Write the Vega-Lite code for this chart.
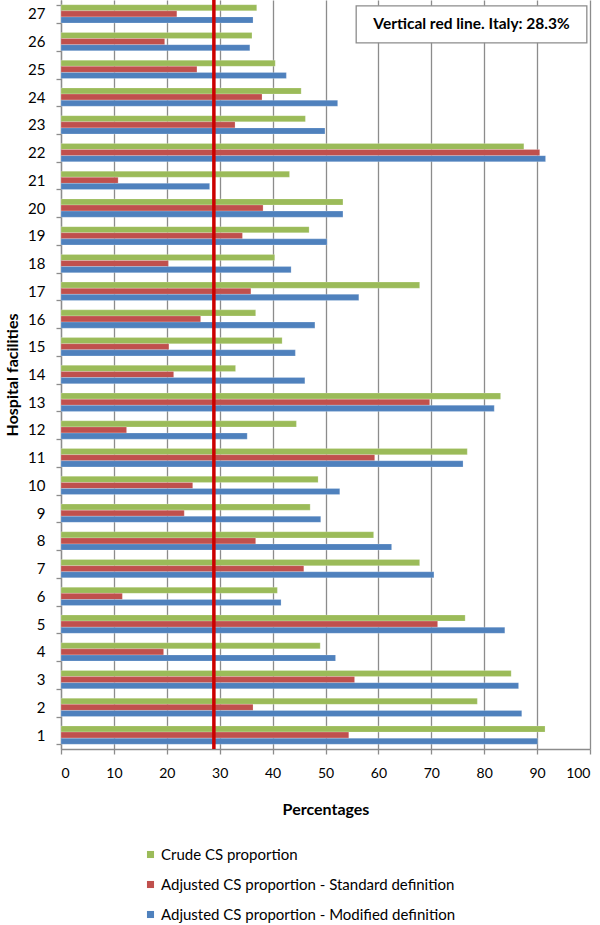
{
  "$schema": "https://vega.github.io/schema/vega-lite/v6.json",
  "width": 529,
  "height": 749,
  "autosize": "none",
  "padding": {"left": 61, "top": 0, "right": 10, "bottom": 176},
  "background": "white",
  "config": {
    "font": "Lato",
    "view": {"stroke": null},
    "axis": {"labelColor": "black", "titleColor": "black", "domainColor": "#8c8c8c", "tickColor": "#8c8c8c", "domainWidth": 1.3, "tickWidth": 1.3}
  },
  "datasets": {
    "bars": [
      {"facility": 1, "series": "Crude CS proportion", "value": 91.5},
      {"facility": 1, "series": "Adjusted CS proportion - Standard definition", "value": 54.4},
      {"facility": 1, "series": "Adjusted CS proportion - Modified definition", "value": 90.1},
      {"facility": 2, "series": "Crude CS proportion", "value": 78.7},
      {"facility": 2, "series": "Adjusted CS proportion - Standard definition", "value": 36.3},
      {"facility": 2, "series": "Adjusted CS proportion - Modified definition", "value": 87.1},
      {"facility": 3, "series": "Crude CS proportion", "value": 85.1},
      {"facility": 3, "series": "Adjusted CS proportion - Standard definition", "value": 55.5},
      {"facility": 3, "series": "Adjusted CS proportion - Modified definition", "value": 86.5},
      {"facility": 4, "series": "Crude CS proportion", "value": 49.0},
      {"facility": 4, "series": "Adjusted CS proportion - Standard definition", "value": 19.4},
      {"facility": 4, "series": "Adjusted CS proportion - Modified definition", "value": 51.9},
      {"facility": 5, "series": "Crude CS proportion", "value": 76.4},
      {"facility": 5, "series": "Adjusted CS proportion - Standard definition", "value": 71.2},
      {"facility": 5, "series": "Adjusted CS proportion - Modified definition", "value": 83.9},
      {"facility": 6, "series": "Crude CS proportion", "value": 40.9},
      {"facility": 6, "series": "Adjusted CS proportion - Standard definition", "value": 11.6},
      {"facility": 6, "series": "Adjusted CS proportion - Modified definition", "value": 41.6},
      {"facility": 7, "series": "Crude CS proportion", "value": 67.8},
      {"facility": 7, "series": "Adjusted CS proportion - Standard definition", "value": 45.9},
      {"facility": 7, "series": "Adjusted CS proportion - Modified definition", "value": 70.5},
      {"facility": 8, "series": "Crude CS proportion", "value": 59.1},
      {"facility": 8, "series": "Adjusted CS proportion - Standard definition", "value": 36.8},
      {"facility": 8, "series": "Adjusted CS proportion - Modified definition", "value": 62.5},
      {"facility": 9, "series": "Crude CS proportion", "value": 47.1},
      {"facility": 9, "series": "Adjusted CS proportion - Standard definition", "value": 23.3},
      {"facility": 9, "series": "Adjusted CS proportion - Modified definition", "value": 49.1},
      {"facility": 10, "series": "Crude CS proportion", "value": 48.6},
      {"facility": 10, "series": "Adjusted CS proportion - Standard definition", "value": 24.9},
      {"facility": 10, "series": "Adjusted CS proportion - Modified definition", "value": 52.7},
      {"facility": 11, "series": "Crude CS proportion", "value": 76.8},
      {"facility": 11, "series": "Adjusted CS proportion - Standard definition", "value": 59.3},
      {"facility": 11, "series": "Adjusted CS proportion - Modified definition", "value": 76.0},
      {"facility": 12, "series": "Crude CS proportion", "value": 44.5},
      {"facility": 12, "series": "Adjusted CS proportion - Standard definition", "value": 12.4},
      {"facility": 12, "series": "Adjusted CS proportion - Modified definition", "value": 35.2},
      {"facility": 13, "series": "Crude CS proportion", "value": 83.1},
      {"facility": 13, "series": "Adjusted CS proportion - Standard definition", "value": 69.7},
      {"facility": 13, "series": "Adjusted CS proportion - Modified definition", "value": 81.9},
      {"facility": 14, "series": "Crude CS proportion", "value": 33.0},
      {"facility": 14, "series": "Adjusted CS proportion - Standard definition", "value": 21.3},
      {"facility": 14, "series": "Adjusted CS proportion - Modified definition", "value": 46.1},
      {"facility": 15, "series": "Crude CS proportion", "value": 41.8},
      {"facility": 15, "series": "Adjusted CS proportion - Standard definition", "value": 20.4},
      {"facility": 15, "series": "Adjusted CS proportion - Modified definition", "value": 44.3},
      {"facility": 16, "series": "Crude CS proportion", "value": 36.8},
      {"facility": 16, "series": "Adjusted CS proportion - Standard definition", "value": 26.4},
      {"facility": 16, "series": "Adjusted CS proportion - Modified definition", "value": 48.0},
      {"facility": 17, "series": "Crude CS proportion", "value": 67.8},
      {"facility": 17, "series": "Adjusted CS proportion - Standard definition", "value": 35.9},
      {"facility": 17, "series": "Adjusted CS proportion - Modified definition", "value": 56.3},
      {"facility": 18, "series": "Crude CS proportion", "value": 40.4},
      {"facility": 18, "series": "Adjusted CS proportion - Standard definition", "value": 20.3},
      {"facility": 18, "series": "Adjusted CS proportion - Modified definition", "value": 43.5},
      {"facility": 19, "series": "Crude CS proportion", "value": 46.9},
      {"facility": 19, "series": "Adjusted CS proportion - Standard definition", "value": 34.3},
      {"facility": 19, "series": "Adjusted CS proportion - Modified definition", "value": 50.3},
      {"facility": 20, "series": "Crude CS proportion", "value": 53.3},
      {"facility": 20, "series": "Adjusted CS proportion - Standard definition", "value": 38.2},
      {"facility": 20, "series": "Adjusted CS proportion - Modified definition", "value": 53.3},
      {"facility": 21, "series": "Crude CS proportion", "value": 43.2},
      {"facility": 21, "series": "Adjusted CS proportion - Standard definition", "value": 10.8},
      {"facility": 21, "series": "Adjusted CS proportion - Modified definition", "value": 28.1},
      {"facility": 22, "series": "Crude CS proportion", "value": 87.5},
      {"facility": 22, "series": "Adjusted CS proportion - Standard definition", "value": 90.5},
      {"facility": 22, "series": "Adjusted CS proportion - Modified definition", "value": 91.6},
      {"facility": 23, "series": "Crude CS proportion", "value": 46.2},
      {"facility": 23, "series": "Adjusted CS proportion - Standard definition", "value": 32.9},
      {"facility": 23, "series": "Adjusted CS proportion - Modified definition", "value": 49.9},
      {"facility": 24, "series": "Crude CS proportion", "value": 45.4},
      {"facility": 24, "series": "Adjusted CS proportion - Standard definition", "value": 38.0},
      {"facility": 24, "series": "Adjusted CS proportion - Modified definition", "value": 52.3},
      {"facility": 25, "series": "Crude CS proportion", "value": 40.5},
      {"facility": 25, "series": "Adjusted CS proportion - Standard definition", "value": 25.7},
      {"facility": 25, "series": "Adjusted CS proportion - Modified definition", "value": 42.6},
      {"facility": 26, "series": "Crude CS proportion", "value": 36.1},
      {"facility": 26, "series": "Adjusted CS proportion - Standard definition", "value": 19.6},
      {"facility": 26, "series": "Adjusted CS proportion - Modified definition", "value": 35.7},
      {"facility": 27, "series": "Crude CS proportion", "value": 37.0},
      {"facility": 27, "series": "Adjusted CS proportion - Standard definition", "value": 21.9},
      {"facility": 27, "series": "Adjusted CS proportion - Modified definition", "value": 36.3}
    ],
    "italy": [{"value": 28.9}],
    "note": [{"facility": 27, "x1": 55.8, "x2": 99.4, "xc": 77.6, "label": "Vertical red line. Italy: 28.3%"}]
  },
  "layer": [
    {
      "data": {"name": "bars"},
      "mark": {"type": "bar", "stroke": "white", "strokeOpacity": 0.35, "strokeWidth": 0.6},
      "encoding": {
        "y": {
          "field": "facility", "type": "ordinal", "sort": "descending",
          "scale": {"paddingInner": 0.34, "paddingOuter": 0.17},
          "axis": {"title": "Hospital facilities", "titleFontSize": 16, "titleFontWeight": "bold", "titlePadding": 7,
                   "tickBand": "extent", "tickSize": 5, "labelFontSize": 15, "labelPadding": 11, "grid": false}
        },
        "yOffset": {
          "field": "series", "type": "nominal",
          "scale": {"domain": ["Crude CS proportion", "Adjusted CS proportion - Standard definition", "Adjusted CS proportion - Modified definition"], "paddingInner": 0, "paddingOuter": 0}
        },
        "x": {
          "field": "value", "type": "quantitative",
          "scale": {"domain": [0, 100], "nice": false},
          "axis": {"title": "Percentages", "titleFontSize": 16, "titleFontWeight": "bold", "titlePadding": 21,
                   "values": [0, 10, 20, 30, 40, 50, 60, 70, 80, 90, 100], "grid": true, "gridColor": "#8c8c8c", "gridWidth": 1.3,
                   "tickSize": 5, "labelFontSize": 14, "labelPadding": 12}
        },
        "color": {
          "field": "series", "type": "nominal",
          "scale": {"domain": ["Crude CS proportion", "Adjusted CS proportion - Standard definition", "Adjusted CS proportion - Modified definition"],
                    "range": ["#9BBB59", "#C0504D", "#4F81BD"]},
          "legend": {"title": null, "orient": "none", "legendX": 82, "legendY": 847, "direction": "vertical",
                     "symbolType": "square", "symbolSize": 50, "symbolStrokeWidth": 0, "labelFontSize": 15, "labelLimit": 500,
                     "rowPadding": 14, "labelOffset": 3}
        }
      }
    },
    {
      "data": {"name": "italy"},
      "mark": {"type": "rule", "color": "#CC0000", "strokeWidth": 3.5},
      "encoding": {"x": {"field": "value", "type": "quantitative"}}
    },
    {
      "data": {"name": "note"},
      "mark": {"type": "bar", "height": 37, "yOffset": 10.5, "fill": "white", "stroke": "#8c8c8c", "strokeWidth": 1.3},
      "encoding": {
        "y": {"field": "facility", "type": "ordinal", "sort": "descending"},
        "x": {"field": "x1", "type": "quantitative"},
        "x2": {"field": "x2"}
      }
    },
    {
      "data": {"name": "note"},
      "mark": {"type": "text", "fontSize": 15.5, "fontWeight": "bold", "color": "black", "dy": 10.5},
      "encoding": {
        "y": {"field": "facility", "type": "ordinal", "sort": "descending"},
        "x": {"field": "xc", "type": "quantitative"},
        "text": {"field": "label"}
      }
    }
  ]
}
